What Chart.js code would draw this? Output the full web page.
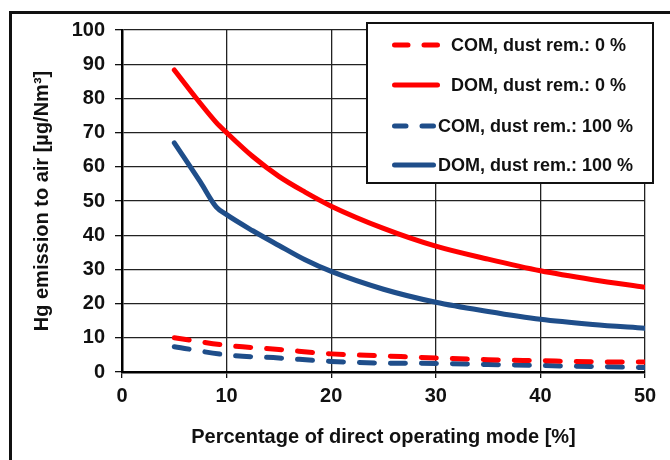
<!DOCTYPE html>
<html>
<head>
<meta charset="utf-8">
<title>Hg emission to air</title>
<script src="https://cdn.jsdelivr.net/npm/chart.js@4.4.0/dist/chart.umd.min.js"></script>
<style>
    html, body { margin: 0; padding: 0; background: #fff; overflow: hidden; }
    #wrap { position: relative; width: 670px; height: 460px; }
    /* outer frame: only left and top edges are visible in the picture */
    #frame { position: absolute; left: 9px; top: 11px; width: 700px; height: 500px;
             border: 3px solid #111; box-sizing: border-box; }
    #chart { position: absolute; left: 0; top: 0; }
</style>
</head>
<body>
<div id="wrap">
    <div id="frame"></div>
    <canvas id="chart" width="670" height="460"></canvas>
</div>
<script>
// x positions of the read-off points [%]
var xSolid  = [5, 7.5, 9, 10, 12.5, 15, 17.5, 20, 25, 30, 35, 40, 45, 50];
var xDashed = [5, 10, 15, 20, 25, 30, 35, 40, 45, 50];

// Hg emission [µg/Nm³]
var domDust0   = [88.3, 78.5, 73, 70, 63, 57.2, 52.6, 48.5, 42, 36.8, 33, 29.6, 27, 24.8];
var domDust100 = [67, 55.5, 48.3, 46, 41.3, 37, 32.8, 29.4, 24.2, 20.4, 17.7, 15.4, 13.9, 12.8];
var comDust0   = [10, 7.8, 6.6, 5.3, 4.7, 4.1, 3.6, 3.3, 3.0, 2.9];
var comDust100 = [7.4, 5.0, 4.1, 3.1, 2.6, 2.5, 2.2, 1.9, 1.6, 1.3];

var seriesLabels = ['COM, dust rem.: 0 %', 'DOM, dust rem.: 0 %',
                    'COM, dust rem.: 100 %', 'DOM, dust rem.: 100 %'];

var xTitle = 'Percentage of direct operating mode [%]';
var yTitle = 'Hg emission to air [µg/Nm³]';

var RED  = '#ff0000';
var BLUE = '#1f4e8a';
var FONT = '"Liberation Sans", Arial, sans-serif';

function pts(xs, ys) {
    return xs.map(function (x, i) { return { x: x, y: ys[i] }; });
}

function lineSet(label, xs, ys, color, dashed) {
    return {
        label: label,
        data: pts(xs, ys),
        borderColor: color,
        backgroundColor: color,
        borderWidth: 5,
        borderCapStyle: 'round',
        borderJoinStyle: 'round',
        borderDash: dashed ? [15, 16] : [],
        pointRadius: 0,
        cubicInterpolationMode: 'monotone',
        fill: false
    };
}

// Legend drawn as a boxed panel over the top right of the plot
var boxLegend = {
    id: 'boxLegend',
    afterDraw: function (chart) {
        var c = chart.ctx;
        var rows = [
            { y: 45,  x0: 392, x1: 440, tx: 451 },
            { y: 85,  x0: 392, x1: 440, tx: 451 },
            { y: 126, x0: 392, x1: 436, tx: 438 },
            { y: 165, x0: 392, x1: 436, tx: 438 }
        ];
        c.save();
        c.fillStyle = '#fff';
        c.fillRect(367, 23, 286, 160);
        c.lineWidth = 2;
        c.strokeStyle = '#111';
        c.strokeRect(367, 23, 286, 160);

        chart.data.datasets.forEach(function (ds, i) {
            var r = rows[i];
            c.strokeStyle = ds.borderColor;
            c.lineWidth = 5;
            c.lineCap = 'round';
            c.beginPath();
            if (ds.borderDash.length) {
                var mid = (r.x0 + r.x1) / 2;
                c.moveTo(r.x0 + 2.5, r.y); c.lineTo(mid - 8, r.y);
                c.moveTo(mid + 8, r.y);    c.lineTo(r.x1 - 2.5, r.y);
            } else {
                c.moveTo(r.x0 + 2.5, r.y); c.lineTo(r.x1 - 2.5, r.y);
            }
            c.stroke();

            c.fillStyle = '#111';
            c.font = 'bold 18px ' + FONT;
            c.textBaseline = 'middle';
            c.textAlign = 'left';
            c.fillText(ds.label, r.tx, r.y + 1);
        });
        c.restore();
    }
};

var tickFont = { family: FONT, size: 20, weight: 'bold' };

new Chart(document.getElementById('chart'), {
    type: 'line',
    data: {
        datasets: [
            lineSet(seriesLabels[0], xDashed, comDust0, RED, true),
            lineSet(seriesLabels[1], xSolid, domDust0, RED, false),
            lineSet(seriesLabels[2], xDashed, comDust100, BLUE, true),
            lineSet(seriesLabels[3], xSolid, domDust100, BLUE, false)
        ]
    },
    options: {
        responsive: false,
        animation: false,
        layout: { padding: { top: 30, right: 25, left: 0, bottom: 0 } },
        plugins: {
            legend: { display: false },
            tooltip: { enabled: false }
        },
        scales: {
            x: {
                type: 'linear',
                min: 0, max: 50,
                afterFit: function (s) { s.height = 88; },
                ticks: { stepSize: 10, color: '#111', font: tickFont, padding: 6,
                         maxRotation: 0 },
                grid: { color: '#222', lineWidth: 1.3, tickLength: 6, tickColor: '#111' },
                border: { display: true, color: '#000', width: 2.5 },
                title: { display: true, text: xTitle, color: '#111',
                         font: tickFont, padding: { top: 0, bottom: 11 } }
            },
            y: {
                min: 0, max: 100,
                afterFit: function (s) { s.width = 122; },
                ticks: { stepSize: 10, color: '#111', font: tickFont, padding: 10 },
                grid: { color: '#222', lineWidth: 1.3, tickLength: 7, tickColor: '#111' },
                border: { display: true, color: '#000', width: 2.5 },
                title: { display: true, text: yTitle, color: '#111',
                         font: tickFont, padding: { top: 30, bottom: 0 } }
            }
        }
    },
    plugins: [boxLegend]
});
</script>
</body>
</html>
